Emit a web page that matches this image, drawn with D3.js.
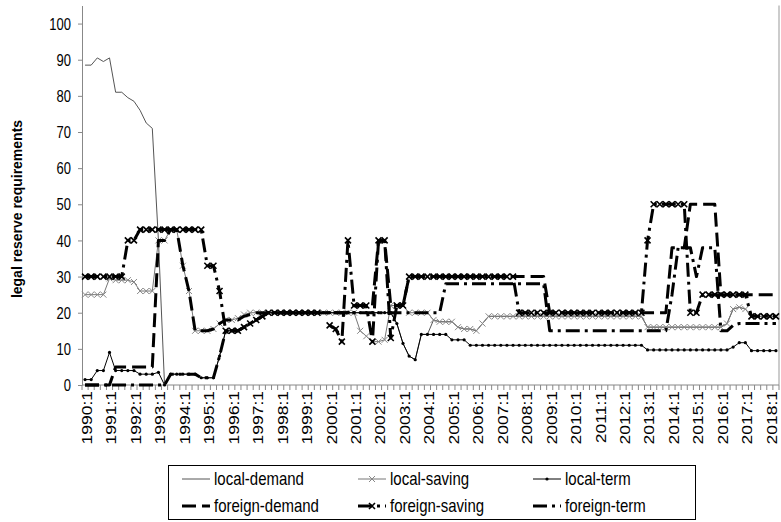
<!DOCTYPE html>
<html>
<head>
<meta charset="utf-8">
<script src="https://cdn.jsdelivr.net/npm/d3@7"></script>
<style>
  body { margin: 0; background: #fff; }
  svg text { font-family: "Liberation Sans", Arial, sans-serif; }
</style>
</head>
<body>
<svg id="chart" width="781" height="522"></svg>
<script>
// quarters 1990:1 .. 2018:2
const quarters = [];
for (let yr = 1990; yr <= 2018; yr++) {
  for (let q = 1; q <= 4; q++) {
    if (yr === 2018 && q > 2) break;
    quarters.push(yr + ":" + q);
  }
}
const yTicks = [0, 10, 20, 30, 40, 50, 60, 70, 80, 90, 100];
const seriesNames = ["local-demand", "local-saving", "local-term", "foreign-demand", "foreign-saving", "foreign-term"];

const localDemand = [
  88.5, 88.5, 90.5, 89.5, 90.5, 81, 81, 79.5, 78.5, 76, 72.5, 71,
  40, 0, 3, 3, 3, 3, 3, 2, 2, 2, 8, 15, 15, 15, 16, 17, 18, 19,
  20, 20, 20, 20, 20, 20, 20, 20, 20, 20,
  20, 20, 20, 20, 20, 20, 20, 20, 20, 20, 20, 17, 11.5, 8, 7, 14, 14,
  18, 17.5, 17.5, 17.5, 16, 15.5, 15.5, 15, 17,
  19, 19, 19, 19, 19, 19, 19, 19, 19, 19, 19, 19, 19, 19, 19, 19, 19, 19, 19, 19, 19, 19, 19, 19, 19, 19,
  16, 16, 16, 16, 16, 16, 16, 16, 16, 16, 16, 16, 16, 17, 21, 21.5, 21, 19, 19, 19, 19, 19
];
const localSaving = [
  25, 25, 25, 25, 29.5, 29, 29, 29, 28.5, 26, 26, 26,
  40, 40, 43, 43, 33, 26, 15, 15, 15, 15.5, 17, 18, 18, 18.5, 19.5,
  20, 20, 20, 20, 20, 20, 20, 20, 20, 20, 20, 20, 20, 20, 20, 20, 20, 20,
  15, 13.5, 12, 12, 12.5, 22, 22, 22, 20, 20, 20, 20,
  18, 17.5, 17.5, 17.5, 16, 15.5, 15.5, 15, 17,
  19, 19, 19, 19, 19, 19, 19, 19, 19, 19, 19, 19, 19, 19, 19, 19, 19, 19, 19, 19, 19, 19, 19, 19, 19, 19,
  16, 16, 16, 16, 16, 16, 16, 16, 16, 16, 16, 16, 16, 17, 21, 21.5, 21, 19, 19, 19, 19, 19
];
const localTerm = [
  1.5, 1.5, 4, 4, 9, 4, 4, 4, 4, 3, 3, 3,
  3.5, 0, 3, 3, 3, 3, 3, 2, 2, 2, 8, 15, 15, 15, 16, 17, 18, 19,
  20, 20, 20, 20, 20, 20, 20, 20, 20, 20, 20, 20, 20, 20, 20, 20, 20, 20, 20, 20, 20,
  17, 11.5, 8, 7, 14, 14, 14, 14, 14, 12.5, 12.5, 12.5,
  11, 11, 11, 11, 11, 11, 11, 11, 11, 11, 11, 11, 11, 11, 11, 11, 11, 11, 11, 11, 11, 11, 11, 11, 11, 11, 11, 11, 11,
  9.7, 9.7, 9.7, 9.7, 9.7, 9.7, 9.7, 9.7, 9.7, 9.7, 9.7, 9.7, 9.7, 9.7, 10.5, 11.7, 11.7, 9.5, 9.5, 9.5, 9.5, 9.5
];
const foreignDemand = [
  0, 0, 0, 0, 0, 5, 5, 5, 5, 5, 5, 5,
  40, 40, 43, 43, 33, 26, 15, 15, 15, 15.5, 17, 18, 18, 18, 19, 19.5,
  20, 20, 20, 20, 20, 20, 20, 20, 20, 20, 20, 20, 20, 20, 20, 20,
  22, 22, 22, 22, 40, 40, 22, 22, 22,
  30, 30, 30, 30, 30, 30, 30, 30, 30, 30, 30, 30, 30, 30, 30, 30, 30, 30, 30, 30, 30, 30, 30,
  20, 20, 20, 20, 20, 20, 20, 20, 20, 20, 20, 20, 20, 20, 20, 20, 20, 20, 20, 20,
  38, 38, 38, 50, 50, 50, 50, 50, 25, 25, 25, 25, 25, 25, 25, 25, 25, 25
];
// 1999:4 is missing in this series (the line breaks there)
const foreignSaving = [
  30, 30, 30, 30, 30, 30, 30, 40, 40,
  43, 43, 43, 43, 43, 43, 43, 43, 43, 43, 43,
  33, 33, 26, 15, 15, 15, 16, 17, 18, 19,
  20, 20, 20, 20, 20, 20, 20, 20, 20, null,
  16.5, 15.5, 12, 40, 22, 22, 22, 12, 40, 40, 13, 22, 22,
  30, 30, 30, 30, 30, 30, 30, 30, 30, 30, 30, 30, 30, 30, 30, 30, 30, 30,
  20, 20, 20, 20, 20, 20, 20, 20, 20, 20, 20, 20, 20, 20, 20, 20, 20, 20, 20, 20, 20,
  40, 50, 50, 50, 50, 50, 50, 20, 20, 25, 25, 25, 25, 25, 25, 25, 25, 19, 19, 19, 19, 19
];
const foreignTerm = [
  0, 0, 0, 0, 0, 0, 0, 0, 0, 0, 0, 0, 0, 0,
  3, 3, 3, 3, 3, 2, 2, 2, 8, 15, 15, 15, 16, 17, 18, 19,
  20, 20, 20, 20, 20, 20, 20, 20, 20, 20, 20, 20, 20, 20, 20, 20, 20, 20, 20, 20,
  20, 20, 20, 20, 20, 20, 20, 20, 20,
  28, 28, 28, 28, 28, 28, 28, 28, 28, 28, 28, 28, 28, 28, 28, 28, 28,
  15, 15, 15, 15, 15, 15, 15, 15, 15, 15, 15, 15, 15, 15, 15, 15, 15, 15, 15, 15,
  25, 38, 38, 38, 30, 38, 38, 38, 15, 15, 16.5, 17, 17, 17, 17, 17, 17, 17
];

const svg = d3.select("#chart");
const plotLeft = 82, plotRight = 779, plotBottom = 385, plotTop = 5.5;
const stretch = 1.25; // glyphs in the picture are drawn taller than wide

const x = d3.scaleBand().domain(quarters).range([plotLeft, plotRight]);
const y = d3.scaleLinear().domain([0, 105]).range([plotBottom, plotTop]);
const cx = q => x(q) + x.bandwidth() / 2;

// right border of plot area
svg.append("line")
  .attr("x1", plotRight).attr("x2", plotRight).attr("y1", plotTop).attr("y2", plotBottom)
  .attr("stroke", "#999").attr("stroke-width", 1);

// y axis
const yAxis = svg.append("g")
  .attr("transform", `translate(${plotLeft},0)`)
  .call(d3.axisLeft(y).tickValues(yTicks).tickSize(4).tickPadding(8).tickSizeOuter(0));
yAxis.select(".domain").attr("stroke", "#888");
yAxis.selectAll(".tick line").attr("stroke", "#888");
yAxis.selectAll(".tick text").remove();
yAxis.selectAll(".tick").append("text")
  .attr("transform", `translate(-11,0) scale(1,${stretch})`)
  .attr("text-anchor", "end")
  .attr("dy", "0.35em")
  .attr("font-size", 13)
  .attr("fill", "#000")
  .text(d => d);

// x axis: tick marks at each category boundary
svg.append("line")
  .attr("x1", plotLeft).attr("x2", plotRight).attr("y1", plotBottom).attr("y2", plotBottom)
  .attr("stroke", "#888");
svg.append("g").selectAll("line")
  .data(quarters.concat(["end"]))
  .enter().append("line")
  .attr("x1", d => d === "end" ? plotRight : x(d))
  .attr("x2", d => d === "end" ? plotRight : x(d))
  .attr("y1", plotBottom).attr("y2", plotBottom + 5)
  .attr("stroke", "#888");

svg.append("g").selectAll("text")
  .data(quarters.filter(q => q.endsWith(":1")))
  .enter().append("text")
  .attr("transform", d => `translate(${cx(d) + 2},${plotBottom + 6}) rotate(-90) scale(${stretch},1)`)
  .attr("text-anchor", "end")
  .attr("dy", "0.35em")
  .attr("font-size", 14)
  .text(d => d);

// y axis title
svg.append("text")
  .attr("transform", `translate(22,209) rotate(-90)`)
  .attr("text-anchor", "middle")
  .attr("font-size", 14)
  .attr("font-weight", "bold")
  .text("legal reserve requirements");

// series
const styles = [
  { name: seriesNames[0], data: localDemand, color: "#555", width: 1, dash: null, marker: null },
  { name: seriesNames[1], data: localSaving, color: "#777", width: 1, dash: null, marker: "x", mcolor: "#888" },
  { name: seriesNames[2], data: localTerm, color: "#000", width: 1, dash: null, marker: "dot" },
  { name: seriesNames[3], data: foreignDemand, color: "#000", width: 3, dash: "14,6", marker: null },
  { name: seriesNames[4], data: foreignSaving, color: "#000", width: 3, dash: "14,5,3,5", marker: "x", mcolor: "#000" },
  { name: seriesNames[5], data: foreignTerm, color: "#000", width: 3, dash: "14,5,3,5", marker: null }
];

const line = d3.line()
  .defined(d => d !== null)
  .x((d, i) => cx(quarters[i]))
  .y(d => y(d));
const plot = svg.append("g");

function drawMarker(g, m, px, py, s) {
  if (m === "x") {
    g.append("path")
      .attr("d", `M${px - 3},${py - 3}L${px + 3},${py + 3}M${px - 3},${py + 3}L${px + 3},${py - 3}`)
      .attr("stroke", s.mcolor).attr("stroke-width", s.width > 1 ? 1.6 : 1).attr("fill", "none");
  } else if (m === "dot") {
    g.append("circle").attr("cx", px).attr("cy", py).attr("r", 1.6).attr("fill", "#000");
  }
}

styles.forEach(s => {
  const g = plot.append("g");
  g.append("path")
    .attr("d", line(s.data))
    .attr("fill", "none")
    .attr("stroke", s.color)
    .attr("stroke-width", s.width)
    .attr("stroke-dasharray", s.dash)
    .attr("stroke-linejoin", "round");
  if (s.marker) {
    s.data.forEach((v, i) => {
      if (v !== null) drawMarker(g, s.marker, cx(quarters[i]), y(v), s);
    });
  }
});

// legend
const lg = svg.append("g");
lg.append("rect")
  .attr("x", 168.5).attr("y", 465.5).attr("width", 527).attr("height", 54)
  .attr("fill", "#fff").attr("stroke", "#000");
const cols = [182, 358, 533];
const rows = [479, 506];
styles.forEach((s, k) => {
  const lx = cols[k % 3], ly = rows[Math.floor(k / 3)];
  lg.append("line")
    .attr("x1", lx).attr("x2", lx + 28).attr("y1", ly).attr("y2", ly)
    .attr("stroke", s.color).attr("stroke-width", s.width)
    .attr("stroke-dasharray", s.dash);
  if (s.marker) drawMarker(lg, s.marker, lx + 14, ly, s);
  lg.append("text")
    .attr("transform", `translate(${lx + 32},${ly}) scale(1,1.2)`)
    .attr("dy", "0.35em")
    .attr("font-size", 15)
    .text(s.name);
});
</script>
</body>
</html>
